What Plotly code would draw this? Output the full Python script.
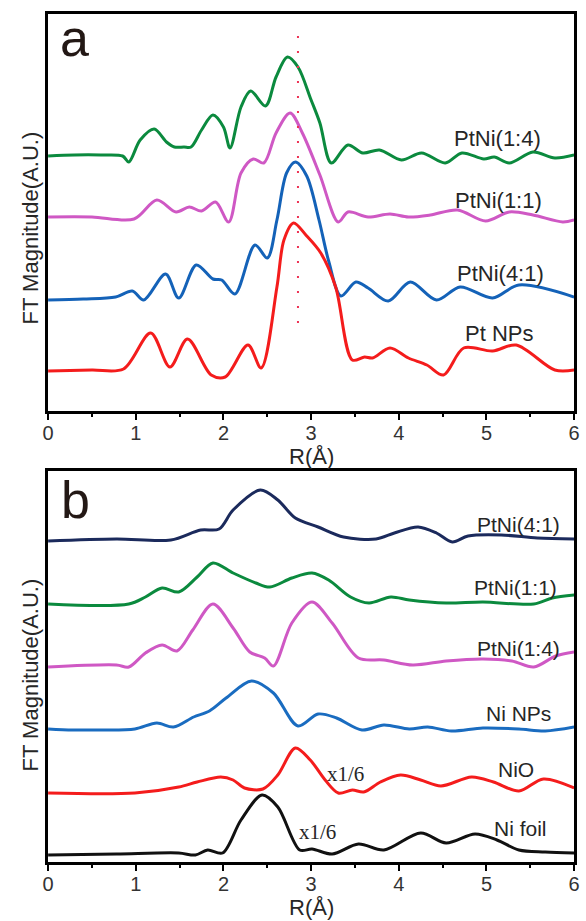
import plotly.graph_objects as go

W, H = 586, 921

# ---------------- Panel a data (R in Å, FT magnitude in arbitrary units) ----------------
a_ptni14_r = [0, 0.3, 0.6, 0.85, 0.92, 1.05, 1.21, 1.35, 1.44, 1.55, 1.63, 1.75, 1.88, 2.0, 2.075, 2.2, 2.31, 2.48, 2.6, 2.73, 2.85, 3.0, 3.1, 3.23, 3.42, 3.59, 3.78, 4.03, 4.26, 4.53, 4.72, 4.97, 5.09, 5.26, 5.53, 5.78, 6.0]
a_ptni14_y = [255, 256, 256, 255, 249, 271, 282, 269, 264, 264, 264, 281, 296, 284, 263, 304, 320, 305, 334, 354, 344, 311, 288, 248, 266, 258, 261, 251, 258, 248, 258, 252, 254, 248, 259, 253, 256]

a_ptni11_r = [0, 0.5, 0.98, 1.24, 1.46, 1.61, 1.75, 1.91, 2.06, 2.2, 2.34, 2.46, 2.6, 2.76, 2.9, 3.1, 3.31, 3.42, 3.65, 3.9, 4.11, 4.36, 4.67, 4.99, 5.26, 5.53, 5.87, 6.0]
a_ptni11_y = [194, 194, 192, 211, 199, 204, 200, 209, 189, 238, 252, 248, 278, 298, 278, 236, 189, 199, 194, 197, 194, 196, 201, 190, 199, 196, 189, 191]

a_ptni41_r = [0, 0.4, 0.77, 0.96, 1.09, 1.34, 1.49, 1.69, 1.88, 1.98, 2.13, 2.36, 2.5, 2.61, 2.72, 2.82, 2.95, 3.09, 3.2, 3.34, 3.51, 3.65, 3.88, 4.13, 4.43, 4.7, 5.07, 5.37, 6.0]
a_ptni41_y = [111, 112, 114, 120, 111, 137, 113, 146, 132, 131, 117, 166, 153, 191, 238, 249, 235, 191, 150, 115, 129, 123, 110, 129, 111, 124, 113, 126, 114]

a_ptnps_r = [0, 0.5, 0.86, 1.17, 1.39, 1.59, 1.86, 2.02, 2.28, 2.43, 2.61, 2.69, 2.8, 2.94, 3.11, 3.28, 3.47, 3.61, 3.7, 3.9, 4.11, 4.32, 4.51, 4.74, 5.07, 5.34, 5.78, 6.0]
a_ptnps_y = [40, 41, 42, 78, 44, 72, 36, 34, 66, 43, 124, 171, 188, 176, 158, 124, 51, 54, 53, 63, 53, 46, 36, 63, 60, 66, 41, 41]

a_names = ["PtNi(1:4)", "PtNi(1:1)", "PtNi(4:1)", "Pt NPs"]
a_label_r = [5.13, 5.14, 5.16, 5.14]
a_label_y = [273, 211, 138, 78]

a_ref_r = 2.85            # dotted reference line position
a_ref_y = [88, 383]

# ---------------- Panel b data ----------------
b_ptni41_r = [0, 0.78, 1.4, 1.74, 1.95, 2.11, 2.42, 2.62, 2.82, 3.08, 3.37, 3.74, 3.95, 4.22, 4.43, 4.61, 4.79, 5.17, 5.58, 6.0]
b_ptni41_y = [321, 323, 322, 332, 333, 352, 372, 362, 344, 335, 325, 323, 329, 335, 329, 320, 326, 327, 324, 323]

b_ptni11_r = [0, 0.92, 1.11, 1.3, 1.49, 1.7, 1.88, 2.11, 2.37, 2.53, 2.78, 3.01, 3.2, 3.45, 3.66, 3.91, 4.12, 4.54, 4.96, 5.54, 5.75, 6.0]
b_ptni11_y = [258, 258, 265, 274, 270, 285, 299, 289, 279, 275, 284, 289, 282, 265, 259, 265, 262, 259, 260, 258, 264, 267]

b_ptni14_r = [0, 0.78, 0.92, 1.11, 1.3, 1.47, 1.65, 1.88, 2.11, 2.3, 2.47, 2.57, 2.78, 3.01, 3.24, 3.54, 3.83, 4.16, 4.54, 4.96, 5.29, 5.54, 5.79, 6.0]
b_ptni14_y = [195, 197, 195, 209, 217, 211, 232, 258, 234, 210, 204, 196, 239, 260, 239, 204, 202, 197, 201, 203, 201, 195, 206, 210]

b_ninps_r = [0, 0.28, 0.61, 0.99, 1.24, 1.43, 1.66, 1.84, 2.03, 2.32, 2.57, 2.85, 3.08, 3.29, 3.58, 3.83, 4.12, 4.33, 4.6, 4.96, 5.37, 5.67, 6.0]
b_ninps_y = [133, 132, 132, 133, 139, 135, 145, 151, 164, 181, 169, 136, 148, 144, 132, 137, 133, 135, 131, 134, 133, 131, 135]

b_nio_r = [0, 0.99, 1.49, 1.7, 1.97, 2.11, 2.24, 2.45, 2.62, 2.82, 2.99, 3.16, 3.31, 3.47, 3.6, 3.79, 4.02, 4.25, 4.48, 4.83, 5.08, 5.37, 5.65, 6.0]
b_nio_y = [69, 69, 75, 80, 85, 82, 74, 73, 87, 114, 102, 82, 69, 72, 70, 80, 87, 82, 76, 85, 80, 71, 83, 74]

b_nifoil_r = [0, 0.78, 1.49, 1.68, 1.82, 1.99, 2.2, 2.44, 2.62, 2.87, 3.01, 3.24, 3.54, 3.83, 4.25, 4.54, 4.87, 5.12, 5.37, 5.67, 6.0]
b_nifoil_y = [7, 8, 9, 7, 12, 9, 42, 67, 55, 12, 13, 8, 18, 12, 29, 19, 28, 22, 12, 10, 9]

b_names = ["PtNi(4:1)", "PtNi(1:1)", "PtNi(1:4)", "Ni NPs", "NiO", "Ni foil"]
b_label_r = [5.36, 5.33, 5.37, 5.37, 5.34, 5.39]
b_label_y = [338, 275, 214, 149, 93, 34]

b_scale_text = ["x1/6", "x1/6"]
b_scale_r = [3.39, 3.07]
b_scale_y = [88, 30]

x_ticks = [0, 1, 2, 3, 4, 5, 6]

# ---------------- styling ----------------
GREEN = "#0b8a3e"
MAGENTA = "#cf58c4"
BLUE = "#1462b8"
RED = "#f41c1c"
NAVY = "#1b2a5c"
BLUE_B = "#1a6cc0"
BLACK = "#111111"
SANS = "Liberation Sans, Arial, sans-serif"
SERIF = "Liberation Serif, Times New Roman, serif"
TXT = "#262626"

fig = go.Figure()

def add_curve(r, y, color, xa, ya):
    fig.add_trace(go.Scatter(x=r, y=y, mode="lines", xaxis=xa, yaxis=ya,
                             line=dict(color=color, width=3, shape="spline", smoothing=0.9),
                             hoverinfo="skip", showlegend=False))

add_curve(a_ptni14_r, a_ptni14_y, GREEN, "x", "y")
add_curve(a_ptni11_r, a_ptni11_y, MAGENTA, "x", "y")
add_curve(a_ptni41_r, a_ptni41_y, BLUE, "x", "y")
add_curve(a_ptnps_r, a_ptnps_y, RED, "x", "y")
fig.add_trace(go.Scatter(x=[a_ref_r, a_ref_r], y=a_ref_y, mode="lines", xaxis="x", yaxis="y",
                         line=dict(color="#ee3355", width=2, dash="2px,13px"),
                         hoverinfo="skip", showlegend=False))

add_curve(b_ptni41_r, b_ptni41_y, NAVY, "x2", "y2")
add_curve(b_ptni11_r, b_ptni11_y, GREEN, "x2", "y2")
add_curve(b_ptni14_r, b_ptni14_y, MAGENTA, "x2", "y2")
add_curve(b_ninps_r, b_ninps_y, BLUE_B, "x2", "y2")
add_curve(b_nio_r, b_nio_y, RED, "x2", "y2")
add_curve(b_nifoil_r, b_nifoil_y, BLACK, "x2", "y2")

# pixel geometry of frames
XL, XR = 43, 580
A_TOP, A_BOT = 14, 411
B_TOP, B_BOT = 471, 862

def xdom():
    return [XL / W, XR / W]

def ydom(top, bot):
    return [(H - bot) / H, (H - top) / H]

xcommon = dict(range=[0, 6], tickvals=x_ticks, ticks="outside", ticklen=6, tickwidth=2,
               tickcolor="black", showline=True, linewidth=3, linecolor="black", mirror=True,
               showgrid=False, zeroline=False, ticklabeloverflow="allow", ticklabelstandoff=-4,
               tickfont=dict(family=SANS, size=20, color="#333333"),
               minor=dict(dtick=0.5, ticks="outside", ticklen=3, tickwidth=2, tickcolor="black"),
               domain=xdom())
ycommon = dict(showticklabels=False, ticks="", showline=True, linewidth=3, linecolor="black",
               mirror=True, showgrid=False, zeroline=False)

fig.update_layout(
    width=W, height=H, margin=dict(l=0, r=0, t=0, b=0),
    paper_bgcolor="white", plot_bgcolor="white",
    xaxis=dict(**xcommon, anchor="y"),
    yaxis=dict(**ycommon, range=[0, A_BOT - A_TOP], domain=ydom(A_TOP, A_BOT), anchor="x"),
    xaxis2=dict(**xcommon, anchor="y2"),
    yaxis2=dict(**ycommon, range=[0, B_BOT - B_TOP], domain=ydom(B_TOP, B_BOT), anchor="x2"),
)

ann = []
for n, r, y in zip(a_names, a_label_r, a_label_y):
    ann.append(dict(x=r, y=y, xref="x", yref="y", text=n, showarrow=False,
                    font=dict(family=SANS, size=22, color=TXT), xanchor="center", yanchor="middle"))
for n, r, y in zip(b_names, b_label_r, b_label_y):
    ann.append(dict(x=r, y=y, xref="x2", yref="y2", text=n, showarrow=False,
                    font=dict(family=SANS, size=21, color=TXT), xanchor="center", yanchor="middle"))
for t, r, y in zip(b_scale_text, b_scale_r, b_scale_y):
    ann.append(dict(x=r, y=y, xref="x2", yref="y2", text=t, showarrow=False,
                    font=dict(family=SERIF, size=21, color=TXT), xanchor="center", yanchor="middle"))

# panel letters
ann.append(dict(x=70 / W, y=(H - 38) / H, xref="paper", yref="paper", text="a", showarrow=False,
                font=dict(family=SANS, size=52, color="#231815"), xanchor="center", yanchor="middle"))
ann.append(dict(x=71 / W, y=(H - 500) / H, xref="paper", yref="paper", text="b", showarrow=False,
                font=dict(family=SANS, size=52, color="#231815"), xanchor="center", yanchor="middle"))

# axis titles
for yc in [228, 675]:
    ann.append(dict(x=25 / W, y=(H - yc) / H, xref="paper", yref="paper", text="FT Magnitude(A.U.)",
                    textangle=-90, showarrow=False, font=dict(family=SANS, size=22, color=TXT),
                    xanchor="center", yanchor="middle"))
for yc in [456, 907]:
    ann.append(dict(x=312 / W, y=(H - yc) / H, xref="paper", yref="paper", text="R(Å)",
                    showarrow=False, font=dict(family=SANS, size=22, color=TXT),
                    xanchor="center", yanchor="middle"))

fig.update_layout(annotations=ann)
fig.write_html("out.html", config={"displayModeBar": False},
               post_script="document.body.style.margin='0';document.body.style.overflow='hidden';")
